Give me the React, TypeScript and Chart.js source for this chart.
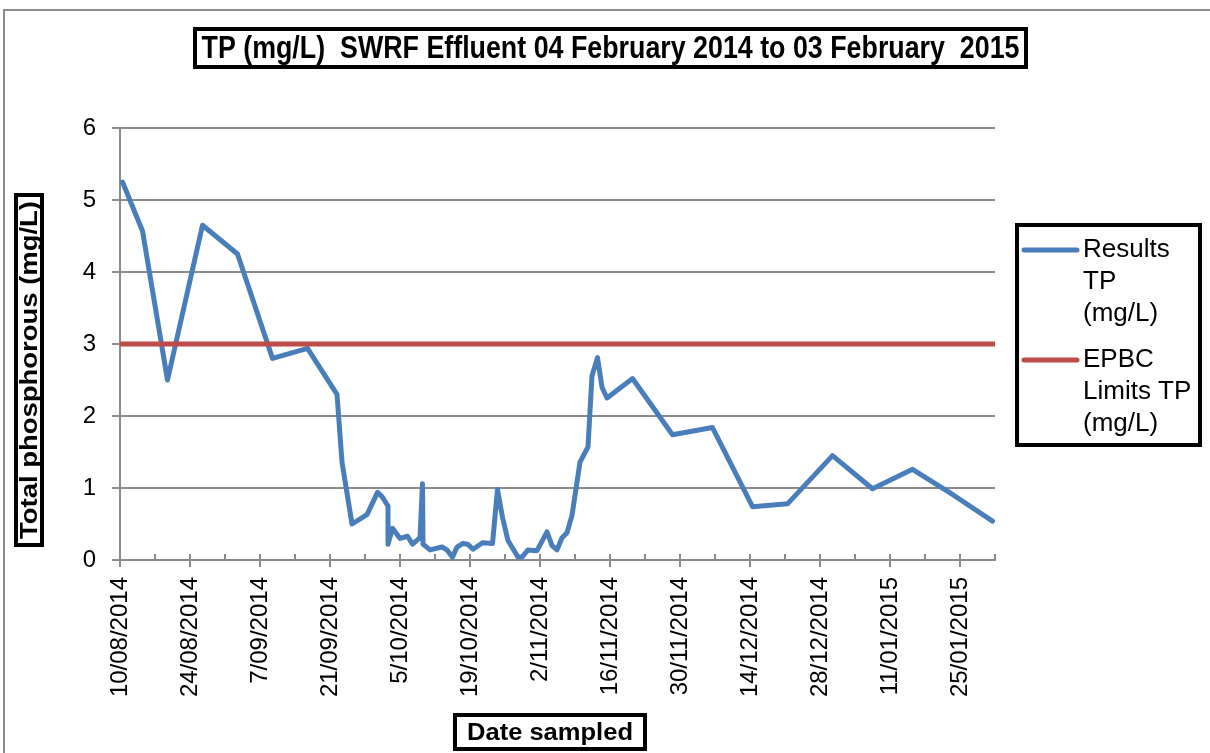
import { useEffect, useRef } from "react";
import { Chart, registerables } from "chart.js";

Chart.register(...registerables);

// ---- texts ----
const chartTitle = "TP (mg/L)  SWRF Effluent 04 February 2014 to 03 February  2015";
const yAxisTitle = "Total phosphorous (mg/L)";
const xAxisTitle = "Date sampled";
const seriesLabels = ["Results TP (mg/L)", "EPBC Limits TP (mg/L)"];
const seriesColors = ["#4A7EBB", "#BE4B48"];

// ---- axis ----
const axisStartUTC = Date.UTC(2014, 7, 10); // 10/08/2014 = day 0
const axisDays = [0, 175];
const tickStepDays = 7;
const labelStepDays = 14;
const yRange = [0, 6];
const yStep = 1;

// ---- series: days since 10/08/2014 (plotted mid-day) ----
const sampleDay = [
  0.5, 4.5, 9.5, 16.5, 23.5, 30.5, 37.5, 43.4, 44.4, 46.4,
  49.4, 51.5, 52.4, 53.6, 53.6, 54.5, 56.0, 57.5, 58.5, 60.0,
  60.5, 60.6, 62.0, 64.4, 65.4, 66.5, 67.4, 68.6, 69.5, 70.6,
  72.5, 74.5, 75.5, 76.5, 77.6, 79.6, 80.4, 81.6, 83.4, 85.4,
  86.4, 87.4, 88.4, 89.4, 90.4, 92.0, 93.6, 94.4, 95.5, 96.4,
  97.4, 102.5, 110.5, 118.5, 126.5, 133.5, 142.5, 150.5, 158.5, 166.5,
  174.5,
];
const resultsTP = [
  5.25, 4.57, 2.5, 4.65, 4.25, 2.8, 2.94, 2.3, 1.36, 0.5,
  0.63, 0.94, 0.88, 0.75, 0.22, 0.44, 0.3, 0.33, 0.22, 0.31,
  1.06, 0.22, 0.14, 0.18, 0.14, 0.04, 0.18, 0.23, 0.22, 0.15,
  0.24, 0.23, 0.98, 0.59, 0.27, 0.04, 0.04, 0.14, 0.13, 0.39,
  0.2, 0.14, 0.31, 0.38, 0.62, 1.36, 1.57, 2.56, 2.81, 2.4,
  2.25, 2.52, 1.74, 1.84, 0.74, 0.78, 1.45, 0.99, 1.26, 0.91,
  0.54,
];
const limitDay = [0, 175];
const limitTP = [3, 3];

const FONT = "'Liberation Sans', Arial, sans-serif";
const GRID = "#8a8a8a";

function fmtDate(v: number) {
  const d = new Date(axisStartUTC + v * 86400000);
  const mm = String(d.getUTCMonth() + 1).padStart(2, "0");
  return `${d.getUTCDate()}/${mm}/${d.getUTCFullYear()}`;
}

function strokeBox(ctx: CanvasRenderingContext2D, x1: number, y1: number, x2: number, y2: number, lw: number) {
  ctx.save();
  ctx.fillStyle = "#fff";
  ctx.fillRect(x1, y1, x2 - x1, y2 - y1);
  ctx.lineWidth = lw;
  ctx.strokeStyle = "#000";
  ctx.strokeRect(x1 + lw / 2, y1 + lw / 2, x2 - x1 - lw, y2 - y1 - lw);
  ctx.restore();
}

function drawFitted(ctx: CanvasRenderingContext2D, text: string, cx: number, cy: number, font: string, fitW: number, rot: number) {
  ctx.save();
  ctx.font = font;
  ctx.translate(cx, cy);
  if (rot) ctx.rotate(rot);
  const w = ctx.measureText(text).width;
  ctx.scale(fitW / w, 1);
  ctx.fillStyle = "#000";
  ctx.textAlign = "center";
  ctx.textBaseline = "middle";
  ctx.fillText(text, 0, 0);
  ctx.restore();
}

function wrapWords(ctx: CanvasRenderingContext2D, text: string, maxW: number) {
  const words = text.split(" ");
  const lines: string[] = [];
  let cur = "";
  for (const w of words) {
    const test = cur ? cur + " " + w : w;
    if (cur && ctx.measureText(test).width > maxW) {
      lines.push(cur);
      cur = w;
    } else cur = test;
  }
  if (cur) lines.push(cur);
  return lines;
}

const decorPlugin = {
  id: "decor",
  beforeDraw(chart: any) {
    const ctx: CanvasRenderingContext2D = chart.ctx;
    ctx.save();
    ctx.fillStyle = "#fff";
    ctx.fillRect(0, 0, chart.width, chart.height);
    ctx.strokeStyle = "#8c8c8c";
    ctx.lineWidth = 2;
    ctx.beginPath();
    ctx.moveTo(4, chart.height);
    ctx.lineTo(4, 10);
    ctx.lineTo(chart.width, 10);
    ctx.stroke();
    ctx.restore();
  },
  beforeDatasetsDraw(chart: any) {
    const ctx: CanvasRenderingContext2D = chart.ctx;
    const xs = chart.scales.x;
    const bottom = chart.chartArea.bottom;
    ctx.save();
    ctx.strokeStyle = GRID;
    ctx.lineWidth = 2;
    for (const t of xs.ticks) {
      const px = Math.round(xs.getPixelForValue(t.value));
      const major = t.value % labelStepDays === 0;
      ctx.beginPath();
      ctx.moveTo(px, bottom - 6);
      ctx.lineTo(px, major ? bottom + 7 : bottom);
      ctx.stroke();
    }
    ctx.restore();
  },
  afterDraw(chart: any) {
    const ctx: CanvasRenderingContext2D = chart.ctx;
    // title
    strokeBox(ctx, 193, 27, 1028, 69, 4);
    drawFitted(ctx, chartTitle, 610.5, 49, `bold 32px ${FONT}`, 818, 0);
    // y axis title
    strokeBox(ctx, 14, 193, 44, 547, 4);
    drawFitted(ctx, yAxisTitle, 30, 370, `bold 24px ${FONT}`, 338, -Math.PI / 2);
    // x axis title
    strokeBox(ctx, 453, 713, 647, 751, 4);
    drawFitted(ctx, xAxisTitle, 550, 733, `bold 24px ${FONT}`, 166, 0);
    // legend
    strokeBox(ctx, 1015, 223, 1202, 447, 4);
    ctx.save();
    ctx.font = `26px ${FONT}`;
    ctx.textAlign = "left";
    ctx.textBaseline = "middle";
    ctx.fillStyle = "#000";
    chart.data.datasets.forEach((ds: any, i: number) => {
      const y0 = 250 + i * 110;
      ctx.strokeStyle = ds.borderColor;
      ctx.lineWidth = 5;
      ctx.lineCap = "round";
      ctx.beginPath();
      ctx.moveTo(1024, y0);
      ctx.lineTo(1077, y0);
      ctx.stroke();
      const lines = wrapWords(ctx, ds.label, 112);
      lines.forEach((ln, j) => ctx.fillText(ln, 1083, y0 + j * 32));
    });
    ctx.restore();
  },
};

export default function App() {
  const ref = useRef<HTMLCanvasElement>(null);
  useEffect(() => {
    document.body.style.margin = "0";
    document.body.style.overflow = "hidden";
    const canvas = ref.current!;
    const chart = new Chart(canvas, {
      type: "line",
      data: {
        datasets: [
          {
            label: seriesLabels[0],
            data: sampleDay.map((d, i) => ({ x: d, y: resultsTP[i] })),
            borderColor: seriesColors[0],
            backgroundColor: seriesColors[0],
            borderWidth: 5,
            pointRadius: 0,
            tension: 0,
            borderJoinStyle: "round",
            borderCapStyle: "round",
            order: 1,
          },
          {
            label: seriesLabels[1],
            data: limitDay.map((d, i) => ({ x: d, y: limitTP[i] })),
            borderColor: seriesColors[1],
            backgroundColor: seriesColors[1],
            borderWidth: 5,
            pointRadius: 0,
            tension: 0,
            order: 0,
          },
        ],
      },
      options: {
        animation: false,
        responsive: false,
        devicePixelRatio: 1,
        events: [],
        layout: { padding: { left: 50, top: 128, right: 215, bottom: 0 } },
        plugins: {
          legend: { display: false },
          title: { display: false },
          tooltip: { enabled: false },
        },
        scales: {
          x: {
            type: "linear",
            min: axisDays[0],
            max: axisDays[1],
            afterFit: (s: any) => {
              s.height = 193;
            },
            grid: { display: true, drawOnChartArea: false, drawTicks: false, color: GRID, lineWidth: 2 },
            border: { display: true, color: GRID, width: 2 },
            ticks: {
              stepSize: tickStepDays,
              autoSkip: false,
              minRotation: 90,
              maxRotation: 90,
              padding: 17,
              color: "#000",
              font: { family: FONT, size: 24 },
              callback: (v: any) => (Number(v) % labelStepDays === 0 ? fmtDate(Number(v)) : ""),
            },
          },
          y: {
            min: yRange[0],
            max: yRange[1],
            afterFit: (s: any) => {
              s.width = 70;
            },
            grid: { color: GRID, lineWidth: 2, tickLength: 8 },
            border: { display: true, color: GRID, width: 2 },
            ticks: {
              stepSize: yStep,
              padding: 16,
              color: "#000",
              font: { family: FONT, size: 24 },
            },
          },
        },
      },
      plugins: [decorPlugin],
    } as any);
    return () => chart.destroy();
  }, []);
  return (
    <div style={{ width: 1210, height: 753, position: "relative" }}>
      <canvas ref={ref} width={1210} height={753} style={{ width: 1210, height: 753, display: "block" }} />
    </div>
  );
}
